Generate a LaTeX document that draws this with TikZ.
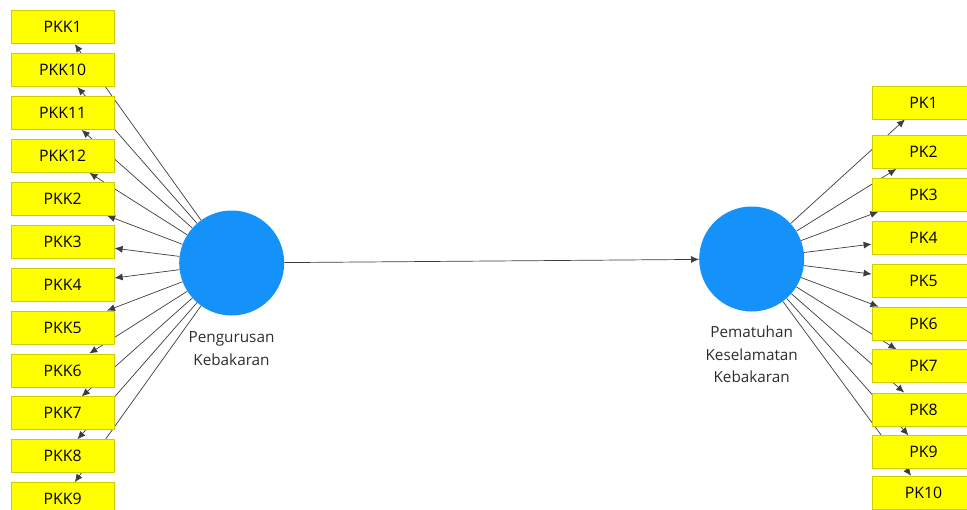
\documentclass[tikz,border=0pt]{standalone}
\usepackage{fontspec}
\setmainfont{Open Sans}
\usetikzlibrary{arrows.meta,backgrounds}
\definecolor{boxyellow}{RGB}{255,255,0}
\definecolor{boxedge}{RGB}{205,205,0}
\definecolor{lvblue}{RGB}{20,146,250}
\definecolor{linegray}{RGB}{60,60,60}
\definecolor{labelgray}{RGB}{45,45,45}
\begin{document}
\begin{tikzpicture}[x=1pt,y=-1pt,
  ind/.style={draw=boxedge, line width=0.8pt, fill=boxyellow, minimum width=103pt, minimum height=33pt, inner sep=0pt, font=\fontsize{15.8}{18}\selectfont},
  lv/.style={circle, fill=lvblue, minimum size=105pt, inner sep=0pt},
  lbl/.style={align=center, font=\fontsize{15.3}{22.7}\selectfont, text=labelgray, inner sep=0pt, anchor=north},
  conn/.style={draw=linegray, line width=0.7pt, -{Latex[length=8pt,width=7pt]}}
]
\useasboundingbox (0,0) rectangle (967,509);
\node[lv] (lv1) at (231.7,263) {};
\node[lv] (lv2) at (751.7,259) {};
\node[lbl] (lbl1) at (231.5,331.5) {Pengurusan\\Kebakaran};
\node[lbl] (lbl2) at (751.7,325.5) {Pematuhan\\Keselamatan\\Kebakaran};
\foreach \n [count=\i from 0] in {1,10,11,12,2,3,4,5,6,7,8,9}
  \node[ind] (pkk\n) at (62.7,27.2+42.9*\i) {PKK\n};
\foreach \n/\y in {1/102.5,2/152,3/194.8,4/237.7,5/280.6,6/323.5,7/366.3,8/409.4,9/452.3,10/492.7}
  \node[ind] (pk\n) at (923.5,\y) {PK\n};
\begin{pgfonlayer}{background}
\foreach \n in {1,10,11,12,2,3,4,5,6,7,8,9}
  \draw[conn] (lv1) -- (pkk\n);
\foreach \n in {1,...,10}
  \draw[conn] (lv2) -- (pk\n);
\draw[conn] (lv1) -- (lv2);
\end{pgfonlayer}
\end{tikzpicture}
\end{document}
